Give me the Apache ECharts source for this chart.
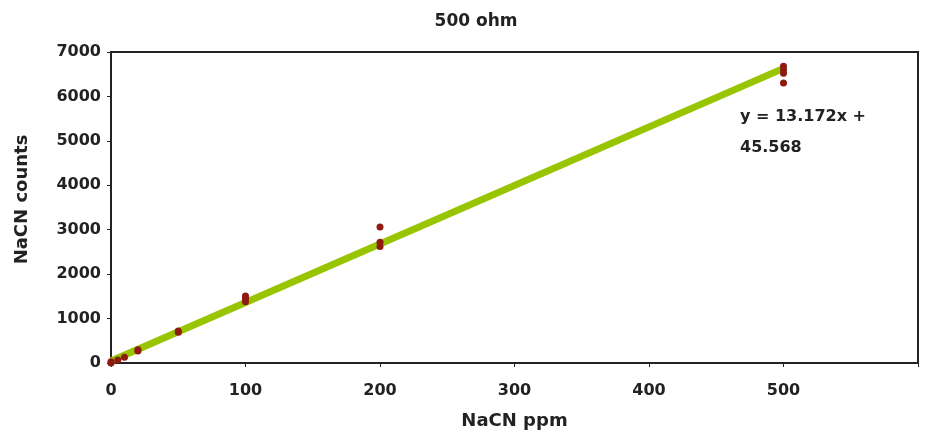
<!DOCTYPE html>
<html><head><meta charset="utf-8">
<script src="https://cdn.jsdelivr.net/npm/echarts@6/dist/echarts.min.js"></script>
<style>html,body{margin:0;padding:0;background:#fff}#c{width:926px;height:437px}</style>
</head><body><div id="c"></div>
<script>
const title = "500 ohm";
const xName = "NaCN ppm";
const yName = "NaCN counts";
const pointsX = [0, 0, 5, 10, 20, 20, 50, 50, 100, 100, 100, 200, 200, 200, 500, 500, 500, 500];
const pointsY = [0, 30, 70, 130, 270, 300, 690, 720, 1380, 1450, 1510, 2620, 2720, 3060, 6300, 6520, 6600, 6680];
const trendX = [0, 500];
const trendY = [45.568, 6631.6];
const equationLines = ["y = 13.172x +", "45.568"];
const xTicks = [0, 100, 200, 300, 400, 500];

const font = "DejaVu Sans";
const chart = echarts.init(document.getElementById('c'));
chart.setOption({
  animation: false,
  backgroundColor: '#fff',
  title: { text: title, left: 471, top: 8, textAlign: 'center',
    textStyle: { fontFamily: font, fontSize: 17, fontWeight: 'bold', color: '#222' } },
  grid: { left: 111, right: 8, top: 52, bottom: 74, show: true, borderColor: '#222', borderWidth: 2, backgroundColor: '#fff' },
  xAxis: { type: 'value', min: 0, max: 600, interval: 100,
    name: xName, nameLocation: 'middle', nameGap: 49,
    nameTextStyle: { fontFamily: font, fontSize: 18, fontWeight: 'bold', color: '#222' },
    axisLine: { show: true, lineStyle: { color: '#222', width: 2 } },
    axisTick: { show: true, length: 4, lineStyle: { color: '#222' } },
    splitLine: { show: false },
    axisLabel: { fontFamily: font, fontSize: 16, fontWeight: 'bold', color: '#222', margin: 20,
      formatter: v => xTicks.indexOf(v) >= 0 ? String(v) : '' } },
  yAxis: { type: 'value', min: 0, max: 7000, interval: 1000,
    name: yName, nameLocation: 'middle', nameGap: 80,
    nameTextStyle: { fontFamily: font, fontSize: 18, fontWeight: 'bold', color: '#222', padding: [0, 0, 0, 16] },
    axisLine: { show: true, lineStyle: { color: '#222', width: 2 } },
    axisTick: { show: true, length: 4, lineStyle: { color: '#222' } },
    splitLine: { show: false },
    axisLabel: { fontFamily: font, fontSize: 16, fontWeight: 'bold', color: '#222', margin: 10,
      formatter: v => String(v) } },
  series: [
    { type: 'line', data: trendX.map((x, i) => [x, trendY[i]]), symbol: 'none',
      lineStyle: { color: '#99c400', width: 7 }, z: 2, silent: true },
    { type: 'scatter', data: pointsX.map((x, i) => [x, pointsY[i]]), symbol: 'circle', symbolSize: 7,
      itemStyle: { color: '#8e1a10', opacity: 1 }, z: 3 }
  ],
  graphic: [
    { type: 'text', left: 740, top: 101, style: { text: equationLines.join('\n'), lineHeight: 31,
      font: 'bold 16px "DejaVu Sans"', fill: '#222' } }
  ]
});
</script></body></html>
